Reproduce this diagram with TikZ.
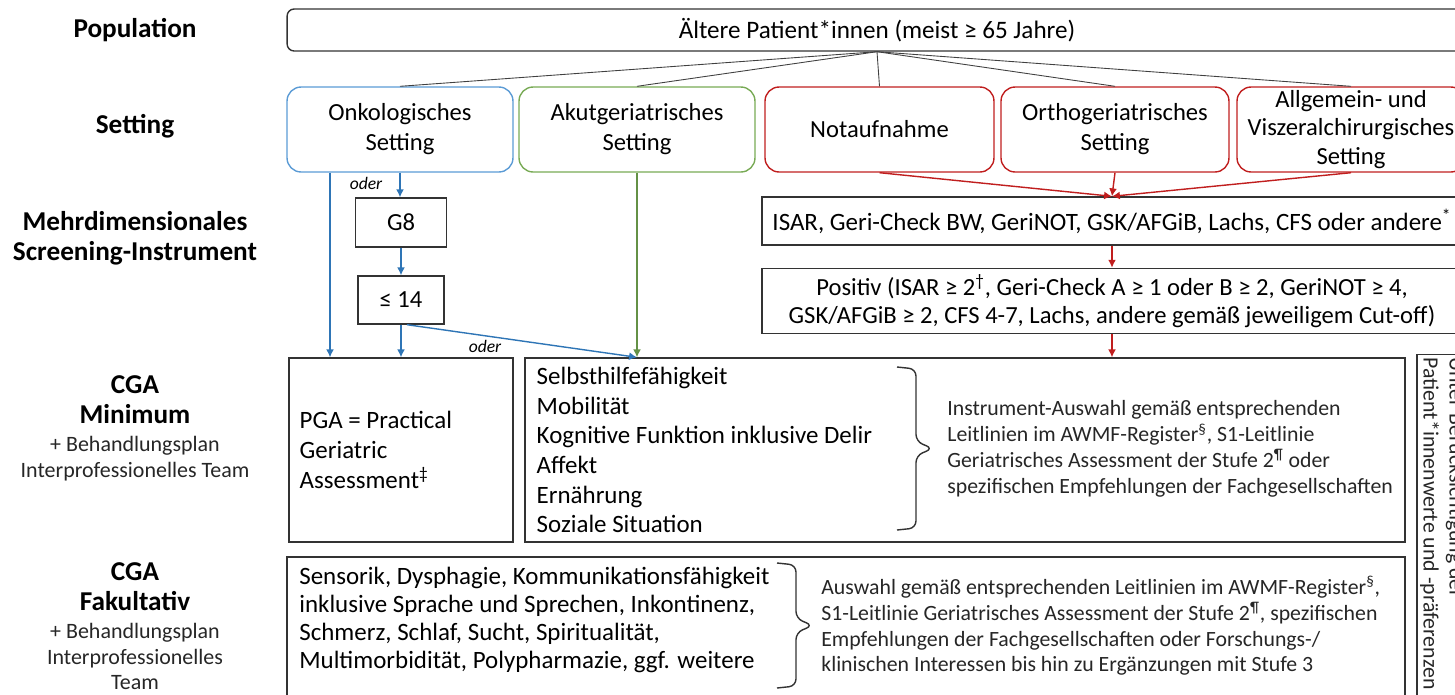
\documentclass[tikz,border=0pt]{standalone}
\usepackage{fontspec}
\setmainfont{Carlito}
\usepackage{xcolor}
\usetikzlibrary{calc, arrows.meta, positioning}

\definecolor{onkoblue}{RGB}{91,155,213}
\definecolor{arrblue}{RGB}{46,117,182}
\definecolor{akutgreen}{RGB}{120,170,85}
\definecolor{arrgreen}{RGB}{100,145,70}
\definecolor{notred}{RGB}{192,30,30}

% square-ish curly bracket: ends at x=#1, from y=#2 down to y=#3
\newcommand{\rklammer}[3]{%
  \draw[klammerline] (#1,#2) -- (#1+19,#2+2) -- (#1+19,{(#2+#3)/2-7}) -- (#1+36,{(#2+#3)/2})
    -- (#1+19,{(#2+#3)/2+7}) -- (#1+19,#3-2) -- (#1,#3);}

\begin{document}
\begin{tikzpicture}[
    x=0.02cm, y=-0.02cm,
    rowlbl/.style={font=\fontsize{15.5}{17}\selectfont\bfseries, align=center},
    sublbl/.style={font=\fontsize{12.5}{14.6}\selectfont, align=center, text=black!85},
    popbox/.style={rectangle, draw=black!80, line width=0.8pt, rounded corners=4pt, minimum width=23.6cm, minimum height=0.84cm, font=\fontsize{14.3}{16}\selectfont},
    setbox/.style={rectangle, line width=0.8pt, rounded corners=8pt, minimum width=4.56cm, minimum height=1.7cm, align=center, inner sep=1pt, font=\fontsize{14}{17}\selectfont},
    plainbox/.style={rectangle, draw=black!80, line width=0.8pt, align=center, font=\fontsize{14}{16}\selectfont},
    listtxt/.style={font=\fontsize{14.2}{16.9}\selectfont, align=left, inner sep=0pt},
    notetxt/.style={font=\fontsize{12.4}{14.7}\selectfont, align=left, inner sep=0pt, text=black!85},
    popline/.style={draw=black!75, line width=0.5pt},
    barrow/.style={draw=arrblue, line width=0.8pt, -{Latex[length=4.5pt, width=4.5pt]}},
    garrow/.style={draw=arrgreen, line width=0.8pt, -{Latex[length=4.5pt, width=4.5pt]}},
    rarrow/.style={draw=notred, line width=0.8pt, -{Latex[length=4.5pt, width=4.5pt]}},
    oder/.style={font=\fontsize{10}{12}\selectfont\itshape, inner sep=1pt},
    klammerline/.style={draw=black!80, line width=0.8pt, rounded corners=4pt}
]
    \useasboundingbox (0,0) rectangle (1455,694);
    \clip (0,0) rectangle (1455,694);

    % Row labels (left column)
    \node[rowlbl] (popL) at (135,30) {Population};
    \node[rowlbl] (setL) at (135,126) {Setting};
    \node[rowlbl] (scrL) at (135,238) {Mehrdimensionales\\Screening-Instrument};
    \node[rowlbl] (minL) at (135,400) {CGA\\Minimum};
    \node[sublbl, below=0pt of minL] (minS) {+ Behandlungsplan\\Interprofessionelles Team};
    \node[rowlbl] (fakL) at (135,587) {CGA\\Fakultativ};
    \node[sublbl, below=0pt of fakL] (fakS) {+ Behandlungsplan\\Interprofessionelles\\Team};

    % Population
    \node (pop) at (877,30) [popbox] {Ältere Patient*innen (meist ≥ 65 Jahre)};

    % Settings
    \node (onko) at (400,129.5) [setbox, draw=onkoblue, minimum width=4.52cm] {Onkologisches\\Setting};
    \node (akut) at (637,129.5) [setbox, draw=akutgreen, minimum width=4.72cm] {Akutgeriatrisches\\Setting};
    \node (notauf) at (879.5,129.5) [setbox, draw=notred, minimum width=4.58cm] {Notaufnahme};
    \node (ortho) at (1115,129.5) [setbox, draw=notred] {Orthogeriatrisches\\Setting};
    \node (allg) at (1351,129.5) [setbox, draw=notred, font=\fontsize{14}{16.3}\selectfont] {Allgemein- und\\Viszeralchirurgisches\\Setting};

    \draw[popline] (pop.south) -- (onko.north);
    \draw[popline] (pop.south) -- (akut.north);
    \draw[popline] (pop.south) -- (notauf.north);
    \draw[popline] (pop.south) -- (ortho.north);
    \draw[popline] (pop.south) -- (allg.north);

    % Screening
    \node (g8) at (401,222.5) [plainbox, minimum width=1.82cm, minimum height=0.98cm] {G8};
    \node (le14) at (401,300) [plainbox, minimum width=1.72cm, minimum height=0.96cm] {≤ 14};
    \node (isar) at (1112,221) [plainbox, minimum width=14cm, minimum height=0.96cm, font=\fontsize{14.2}{16}\selectfont] {ISAR, Geri-Check BW, GeriNOT, GSK/AFGiB, Lachs, CFS oder andere\textsuperscript{*}};
    \node (pos) at (1112,301) [plainbox, minimum width=14cm, minimum height=1.24cm] {Positiv (ISAR ≥ 2\textsuperscript{†}, Geri-Check A ≥ 1 oder B ≥ 2, GeriNOT ≥ 4,\\GSK/AFGiB ≥ 2, CFS 4-7, Lachs, andere gemäß jeweiligem Cut-off)};

    % CGA Minimum
    \node (pga) at (401,450) [plainbox, minimum width=4.48cm, minimum height=3.68cm] {};
    \node (pgatxt) [listtxt, anchor=west] at ([xshift=0.22cm]pga.west) {PGA = Practical\\Geriatric\\Assessment\textsuperscript{‡}};
    \node (minbox) at (965,450) [plainbox, minimum width=17.6cm, minimum height=3.68cm] {};
    \node (minlist) [listtxt, anchor=west] at ([xshift=0.24cm]minbox.west) {Selbsthilfefähigkeit\\Mobilität\\Kognitive Funktion inklusive Delir\\Affekt\\Ernährung\\Soziale Situation};
    \rklammer{897}{367}{530}
    \node (minnote) [notetxt, anchor=west] at (947,449) {Instrument-Auswahl gemäß entsprechenden\\Leitlinien im AWMF-Register\textsuperscript{§}, S1-Leitlinie\\Geriatrisches Assessment der Stufe 2\textsuperscript{¶} oder\\spezifischen Empfehlungen der Fachgesellschaften};

    % Patient values (rotated)
    \node (valbox) at (1441,527) [plainbox, minimum width=0.96cm, minimum height=6.9cm] {};
    \node (valtxt) [notetxt, rotate=-90, anchor=south west, inner sep=2pt] at (valbox.north west) {Unter Berücksichtigung der\\Patient*innenwerte und -präferenzen};

    % CGA Fakultativ
    \node (fakbox) at (846,630) [plainbox, minimum width=22.36cm, minimum height=2.92cm] {};
    \node (faklist) [listtxt, anchor=west, font=\fontsize{14.2}{16.1}\selectfont] at (299,620) {Sensorik, Dysphagie, Kommunikationsfähigkeit\\inklusive Sprache und Sprechen, Inkontinenz,\\Schmerz, Schlaf, Sucht, Spiritualität,\\Multimorbidität, Polypharmazie, ggf. weitere};
    \rklammer{777}{563}{688}
    \node (faknote) [notetxt, anchor=west] at (821,626) {Auswahl gemäß entsprechenden Leitlinien im AWMF-Register\textsuperscript{§},\\S1-Leitlinie Geriatrisches Assessment der Stufe 2\textsuperscript{¶}, spezifischen\\Empfehlungen der Fachgesellschaften oder Forschungs-/\\klinischen Interessen bis hin zu Ergänzungen mit Stufe 3};

    % Onkologisches Setting paths
    \coordinate (minin) at (akut.south |- minbox.north);
    \draw[barrow] ([xshift=-1.4cm]onko.south) -- ([xshift=-1.42cm]pga.north);
    \draw[barrow] (onko.south) -- (onko.south |- g8.north);
    \draw[barrow] (g8.south) -- (le14.north);
    \draw[barrow] (le14.south) -- (pga.north);
    \draw[barrow] ([xshift=0.12cm]le14.south) -- (minin);
    \node[oder] (oder1) at (366,183) {oder};
    \node[oder] (oder2) at (485,346) {oder};

    % Akutgeriatrie
    \draw[garrow] (akut.south) -- (minin);

    % Notaufnahme, Ortho, Chirurgie
    \draw[rarrow] (notauf.south) -- (isar.north);
    \draw[rarrow] (ortho.south) -- (isar.north);
    \draw[rarrow] (allg.south) -- (isar.north);
    \draw[rarrow] (isar.south) -- (pos.north);
    \draw[rarrow] (pos.south) -- (pos.south |- minbox.north);

\end{tikzpicture}
\end{document}
